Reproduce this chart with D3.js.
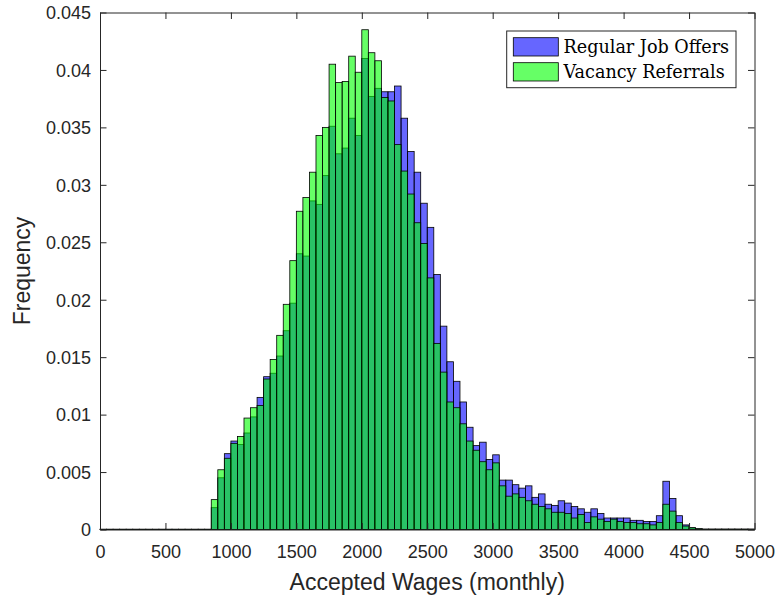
<!DOCTYPE html>
<html>
<head>
<meta charset="utf-8">
<script src="https://cdn.jsdelivr.net/npm/d3@7"></script>
<style>
  html, body { margin: 0; padding: 0; background: #fff; }
</style>
</head>
<body>
<div id="chart"></div>
<script>
// bin width 50, bins start at 0 and run to 5000
const binWidth = 50;
const binStarts = d3.range(0, 5000, binWidth);

const regularJobOffers = [
    0.00002, 0.00002, 0.00002, 0.00002, 0.00002, 0.00002, 0.00002, 0.00002, 0.00002,
    0.00002, 0.00002, 0.00002, 0.00002, 0.00002, 0.00002, 0.00002, 0.00002,
    0.0019, 0.0045, 0.0066, 0.0077, 0.0074, 0.0084, 0.0098, 0.0115, 0.0133, 0.0136,
    0.0151, 0.0173, 0.0197, 0.0240, 0.0238, 0.0286, 0.0283, 0.0308, 0.0351, 0.0327,
    0.0332, 0.0358, 0.0343, 0.0410, 0.0377, 0.0384, 0.0381, 0.0381, 0.0386, 0.0358,
    0.0329, 0.0311, 0.0284, 0.0263, 0.0222, 0.0177, 0.0146, 0.0129, 0.0111, 0.0089,
    0.0073, 0.0076, 0.0061, 0.0065, 0.0043, 0.0043, 0.0039, 0.0036, 0.0038, 0.0028,
    0.0031, 0.0022, 0.0021, 0.0025, 0.0023, 0.0020, 0.0018, 0.0015, 0.0018, 0.0014,
    0.0010, 0.0010, 0.0010, 0.0010, 0.0008, 0.0008, 0.0007, 0.0007, 0.0012, 0.0042,
    0.0027, 0.0012, 0.0004, 0.00015, 0.00006,
    0.00003, 0.00003, 0.00003, 0.00003, 0.00003, 0.00003, 0.00003, 0.00003
];

const vacancyReferrals = [
    0.00002, 0.00002, 0.00002, 0.00002, 0.00002, 0.00002, 0.00002, 0.00002, 0.00002,
    0.00002, 0.00002, 0.00002, 0.00002, 0.00002, 0.00002, 0.00002, 0.00002,
    0.0026, 0.0052, 0.0062, 0.0075, 0.0081, 0.0097, 0.0106, 0.0108, 0.0131, 0.0148,
    0.0169, 0.0196, 0.0234, 0.0277, 0.0289, 0.0311, 0.0343, 0.0350, 0.0405, 0.0389,
    0.0390, 0.0412, 0.0398, 0.0435, 0.0415, 0.0408, 0.0376, 0.0373, 0.0335, 0.0312,
    0.0292, 0.0267, 0.0249, 0.0219, 0.0162, 0.0137, 0.0111, 0.0106, 0.0092, 0.0077,
    0.0069, 0.0059, 0.0052, 0.0058, 0.0038, 0.0029, 0.0031, 0.0028, 0.0025, 0.0022,
    0.0020, 0.0018, 0.0015, 0.0015, 0.0014, 0.0010, 0.0013, 0.0006, 0.0011, 0.0009,
    0.0007, 0.0009, 0.0007, 0.0006, 0.0006, 0.0005, 0.0005, 0.0004, 0.0006, 0.0022,
    0.0016, 0.0006, 0.0003, 0.00015, 0.00006,
    0.00003, 0.00003, 0.00003, 0.00003, 0.00003, 0.00003, 0.00003, 0.00003
];

const seriesNames = ['Regular Job Offers', 'Vacancy Referrals'];
const seriesColors = ['#0000ff', '#00ff00'];
const xTicks = [0, 500, 1000, 1500, 2000, 2500, 3000, 3500, 4000, 4500, 5000];
const yTicks = [0, 0.005, 0.01, 0.015, 0.02, 0.025, 0.03, 0.035, 0.04, 0.045];

const svgParams = {
    width: 780,
    height: 598,
    plot: {left: 100, right: 754.5, top: 12.5, bottom: 529.5},
    axisColor: '#262626'
};

const svg = d3.select('#chart')
    .append('svg')
    .attr('width', svgParams.width)
    .attr('height', svgParams.height)
    .style('font-family', '"Liberation Sans", Arial, sans-serif');

const x = d3.scaleLinear()
    .domain([0, 5000])
    .range([svgParams.plot.left, svgParams.plot.right]);

const y = d3.scaleLinear()
    .domain([0, 0.045])
    .range([svgParams.plot.bottom, svgParams.plot.top]);

// bars: blue drawn first, green on top, both 0.6 face alpha like matlab
[regularJobOffers, vacancyReferrals].forEach((values, s) => {
    svg.append('g')
        .selectAll('rect')
        .data(values)
        .enter()
        .append('rect')
        .attr('x', (d, i) => x(binStarts[i]))
        .attr('width', (d, i) => x(binStarts[i] + binWidth) - x(binStarts[i]))
        .attr('y', d => y(d))
        .attr('height', d => y(0) - y(d))
        .attr('fill', seriesColors[s])
        .attr('fill-opacity', 0.6)
        .attr('stroke', '#000')
        .attr('stroke-width', 0.8);
});

const fmt = d => String(+d.toFixed(3));

// axes with inward ticks
const gx = svg.append('g')
    .attr('transform', `translate(0,${svgParams.plot.bottom})`)
    .call(d3.axisBottom(x).tickValues(xTicks).tickFormat(fmt)
        .tickSizeInner(-6.5).tickSizeOuter(0).tickPadding(16));

const gy = svg.append('g')
    .attr('transform', `translate(${svgParams.plot.left},0)`)
    .call(d3.axisLeft(y).tickValues(yTicks).tickFormat(fmt)
        .tickSizeInner(-6.5).tickSizeOuter(0).tickPadding(9));

const gTop = svg.append('g')
    .attr('transform', `translate(0,${svgParams.plot.top})`)
    .call(d3.axisTop(x).tickValues(xTicks).tickFormat('')
        .tickSizeInner(-6.5).tickSizeOuter(0));

const gRight = svg.append('g')
    .attr('transform', `translate(${svgParams.plot.right},0)`)
    .call(d3.axisRight(y).tickValues(yTicks).tickFormat('')
        .tickSizeInner(-6.5).tickSizeOuter(0));

[gx, gy, gTop, gRight].forEach(g => {
    g.select('.domain').attr('stroke', svgParams.axisColor).attr('stroke-width', 1);
    g.selectAll('.tick line').attr('stroke', svgParams.axisColor).attr('stroke-width', 1);
    g.selectAll('.tick text')
        .attr('fill', svgParams.axisColor)
        .style('font-size', '18px')
        .style('font-family', '"Liberation Sans", Arial, sans-serif');
});
gy.selectAll('.tick text').attr('dy', '0.35em');

// axis labels
svg.append('text')
    .attr('x', (svgParams.plot.left + svgParams.plot.right) / 2)
    .attr('y', 590)
    .attr('text-anchor', 'middle')
    .attr('fill', svgParams.axisColor)
    .style('font-size', '23px')
    .text('Accepted Wages (monthly)');

svg.append('text')
    .attr('transform', `translate(29.5,${(svgParams.plot.top + svgParams.plot.bottom) / 2}) rotate(-90)`)
    .attr('text-anchor', 'middle')
    .attr('fill', svgParams.axisColor)
    .style('font-size', '23px')
    .text('Frequency');

// Legend
const legend = svg.append('g').attr('transform', 'translate(506.7,31)');

legend.append('rect')
    .attr('width', 229.3)
    .attr('height', 56.7)
    .attr('fill', '#fff')
    .attr('stroke', svgParams.axisColor)
    .attr('stroke-width', 1);

const items = legend.selectAll('.legend')
    .data(seriesNames)
    .enter().append('g')
    .attr('class', 'legend')
    .attr('transform', (d, i) => `translate(0,${i * 25})`);

items.append('rect')
    .attr('x', 6.6)
    .attr('y', 6.7)
    .attr('width', 45)
    .attr('height', 18.3)
    .attr('fill', (d, i) => seriesColors[i])
    .attr('fill-opacity', 0.6)
    .attr('stroke', '#000')
    .attr('stroke-width', 0.8);

items.append('text')
    .attr('x', 56.8)
    .attr('y', 21.5)
    .attr('fill', '#000')
    .style('font-family', '"DejaVu Serif", serif')
    .style('font-size', '17.6px')
    .text(d => d);
</script>
</body>
</html>
